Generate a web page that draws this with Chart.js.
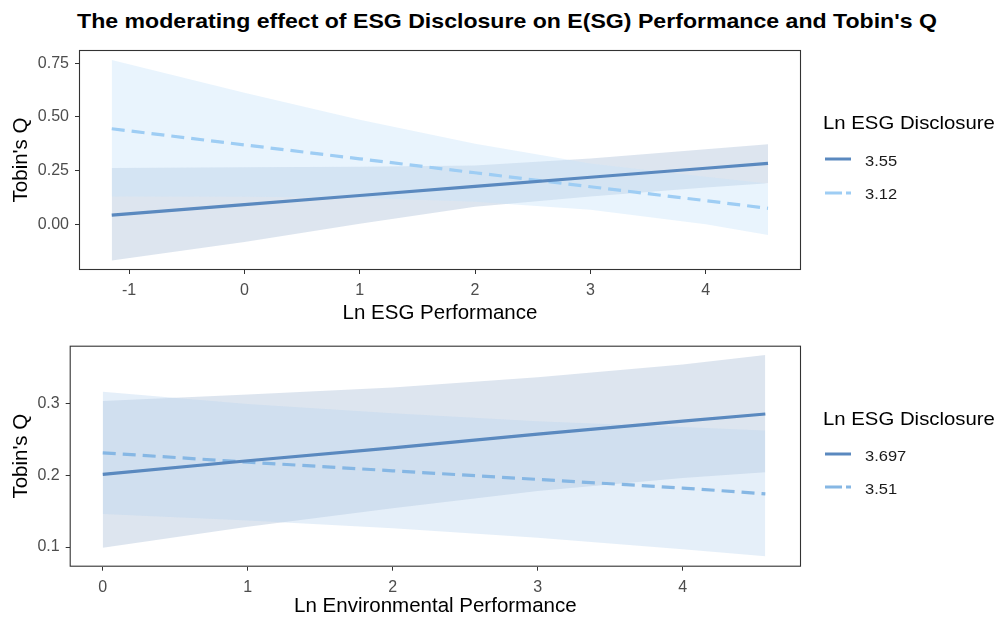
<!DOCTYPE html>
<html>
<head>
<meta charset="utf-8">
<script src="https://cdn.jsdelivr.net/npm/chart.js@4.4.1/dist/chart.umd.min.js"></script>
<style>
html,body{margin:0;padding:0;background:#fff;width:1000px;height:619px;overflow:hidden;}
#wrap{position:relative;width:1000px;height:619px;font-family:"Liberation Sans",Arial,Helvetica,sans-serif;color:#000;}
canvas{position:absolute;left:0;}
#title{position:absolute;left:507px;top:8px;white-space:nowrap;font-weight:bold;font-size:21px;line-height:26px;transform:translateX(-50%) scaleX(1.1);}
.lt{position:absolute;white-space:nowrap;transform-origin:0 50%;transform:scaleX(1.1);}
.key{position:absolute;}
</style>
</head>
<body>
<div id="wrap">
  <div id="title">The moderating effect of ESG Disclosure on E(SG) Performance and Tobin's Q</div>
  <canvas id="c1" width="1000" height="330" style="top:0;width:1000px;height:330px"></canvas>
  <canvas id="c2" width="1000" height="289" style="top:330px;width:1000px;height:289px"></canvas>
</div>
<script>
// ---------- Panel 1: Ln ESG Performance ----------
const topX          = [-1.15, 0, 1, 2, 3, 4, 4.54];
const topSolidFit   = [0.043, 0.092, 0.134, 0.177, 0.219, 0.261, 0.284];
const topSolidLow   = [-0.169, -0.083, 0.002, 0.082, 0.129, 0.171, 0.191];
const topSolidHigh  = [0.262, 0.266, 0.268, 0.274, 0.307, 0.350, 0.373];
const topDashFit    = [0.445, 0.370, 0.305, 0.240, 0.175, 0.110, 0.0745];
const topDashLow    = [0.129, 0.128, 0.124, 0.105, 0.068, 0.000, -0.050];
const topDashHigh   = [0.765, 0.613, 0.487, 0.375, 0.283, 0.222, 0.190];
const topXTicks     = [-1, 0, 1, 2, 3, 4];
const topYTicks     = [0, 0.25, 0.5, 0.75];
const topLegendLabels = ["3.55", "3.12"];

// ---------- Panel 2: Ln Environmental Performance ----------
const botX          = [0, 1, 2, 3, 4, 4.57];
const botSolidFit   = [0.201, 0.220, 0.238, 0.257, 0.275, 0.285];
const botSolidLow   = [0.099, 0.128, 0.154, 0.178, 0.196, 0.204];
const botSolidHigh  = [0.303, 0.312, 0.322, 0.336, 0.354, 0.367];
const botDashFit    = [0.231, 0.218, 0.206, 0.194, 0.182, 0.174];
const botDashLow    = [0.146, 0.137, 0.126, 0.113, 0.097, 0.087];
const botDashHigh   = [0.316, 0.299, 0.286, 0.275, 0.267, 0.262];
const botXTicks     = [0, 1, 2, 3, 4];
const botYTicks     = [0.1, 0.2, 0.3];
const botLegendLabels = ["3.697", "3.51"];

const legendTitle = "Ln ESG Disclosure";
const yTitle = "Tobin's Q";

const FONT = '"Liberation Sans", Arial, Helvetica, sans-serif';
Chart.defaults.font.family = FONT;

const SOLID_COLOR = '#5a89bf';
const SOLID_BAND = 'rgba(166,187,213,0.38)';

function pts(xs, ys){ return xs.map((x,i)=>({x:x, y:ys[i]})); }

const panelBorder = {
  id:'panelBorder',
  afterDatasetsDraw(chart){
    const a = chart.chartArea, ctx = chart.ctx;
    ctx.save();
    ctx.strokeStyle = '#333333';
    ctx.lineWidth = 1.1;
    ctx.strokeRect(a.left+0.5, a.top+0.5, a.right-a.left-1, a.bottom-a.top-1);
    ctx.restore();
  }
};

function makeChart(id, cfg){
  const datasets = [
    {data:pts(cfg.x, cfg.solidLow), borderColor:'rgba(0,0,0,0)', borderWidth:0, pointRadius:0, fill:false, order:3},
    {data:pts(cfg.x, cfg.solidHigh), borderColor:'rgba(0,0,0,0)', borderWidth:0, pointRadius:0, fill:'-1', backgroundColor:SOLID_BAND, order:3},
    {data:pts(cfg.x, cfg.dashLow), borderColor:'rgba(0,0,0,0)', borderWidth:0, pointRadius:0, fill:false, order:2},
    {data:pts(cfg.x, cfg.dashHigh), borderColor:'rgba(0,0,0,0)', borderWidth:0, pointRadius:0, fill:'-1', backgroundColor:cfg.dashBand, order:2},
    {label:cfg.legend[1], data:pts(cfg.x, cfg.dashFit), borderColor:cfg.dashColor, borderWidth:3.2, borderDash:[13,7], borderCapStyle:'butt', pointRadius:0, fill:false, order:1},
    {label:cfg.legend[0], data:pts(cfg.x, cfg.solidFit), borderColor:SOLID_COLOR, borderWidth:3.2, pointRadius:0, fill:false, order:0}
  ];
  return new Chart(document.getElementById(id), {
    type:'line',
    data:{datasets:datasets},
    plugins:[panelBorder],
    options:{
      responsive:false, maintainAspectRatio:false, animation:false,
      events:[],
      elements:{line:{tension:0}},
      layout:{padding:{left:0, top:cfg.padTop, right:199, bottom:0}},
      plugins:{legend:{display:false}, tooltip:{enabled:false}, title:{display:false}},
      scales:{
        x:{
          type:'linear', min:cfg.xMin, max:cfg.xMax,
          afterBuildTicks:(s)=>{ s.ticks = cfg.xTicks.map(v=>({value:v})); },
          afterFit:(s)=>{ s.height = cfg.xHeight; },
          ticks:{callback:(v)=>String(v), color:'#4d4d4d', font:{size:16}, padding:7, maxRotation:0, autoSkip:false},
          grid:{display:true, drawOnChartArea:false, drawTicks:true, tickLength:4, tickColor:'#333333', tickWidth:1},
          border:{display:false},
          title:{display:true, text:cfg.xTitle, color:'#000', font:{size:20.5}, padding:{top:0, bottom:cfg.xTitlePad}}
        },
        y:{
          type:'linear', min:cfg.yMin, max:cfg.yMax,
          afterBuildTicks:(s)=>{ s.ticks = cfg.yTicks.map(v=>({value:v})); },
          afterFit:(s)=>{ s.width = cfg.yWidth; },
          ticks:{callback:(v)=>Number(v).toFixed(cfg.yDec), color:'#4d4d4d', font:{size:16}, padding:6, autoSkip:false},
          grid:{display:true, drawOnChartArea:false, drawTicks:true, tickLength:4, tickColor:'#333333', tickWidth:1},
          border:{display:false},
          title:{display:true, text:yTitle, color:'#000', font:{size:20.5}, padding:{top:9, bottom:0}}
        }
      }
    }
  });
}

makeChart('c1', {
  x:topX, solidFit:topSolidFit, solidLow:topSolidLow, solidHigh:topSolidHigh,
  dashFit:topDashFit, dashLow:topDashLow, dashHigh:topDashHigh,
  dashColor:'#9ecdf4', dashBand:'rgba(197,226,250,0.38)',
  legend:topLegendLabels,
  xMin:-1.434, xMax:4.826, yMin:-0.213, yMax:0.812,
  xTicks:topXTicks, yTicks:topYTicks, yDec:2,
  padTop:50, xHeight:60, yWidth:79, xTitle:'Ln ESG Performance', xTitlePad:4.5
});

makeChart('c2', {
  x:botX, solidFit:botSolidFit, solidLow:botSolidLow, solidHigh:botSolidHigh,
  dashFit:botDashFit, dashLow:botDashLow, dashHigh:botDashHigh,
  dashColor:'#86b7e4', dashBand:'rgba(187,213,239,0.38)',
  legend:botLegendLabels,
  xMin:-0.228, xMax:4.816, yMin:0.0726, yMax:0.380,
  xTicks:botXTicks, yTicks:botYTicks, yDec:1,
  padTop:15.7, xHeight:52.3, yWidth:69.7, xTitle:'Ln Environmental Performance', xTitlePad:0
});

// ---------- Legends (HTML) ----------
function addLegend(titleCenterY, itemYs, labels, dashColor){
  const wrap = document.getElementById('wrap');
  const t = document.createElement('div');
  t.className = 'lt';
  t.style.left = '823px'; t.style.top = (titleCenterY - 11) + 'px';
  t.style.fontSize = '18.5px'; t.style.lineHeight = '22px';
  t.textContent = legendTitle;
  wrap.appendChild(t);
  labels.forEach((lab, i) => {
    const ky = itemYs[i];
    const svg = document.createElementNS('http://www.w3.org/2000/svg','svg');
    svg.setAttribute('width','30'); svg.setAttribute('height','10');
    svg.setAttribute('class','key');
    svg.style.left = '824px'; svg.style.top = (ky - 5) + 'px';
    const ln = document.createElementNS('http://www.w3.org/2000/svg','line');
    ln.setAttribute('x1','1'); ln.setAttribute('x2','27');
    ln.setAttribute('y1','5'); ln.setAttribute('y2','5');
    ln.setAttribute('stroke-width','3');
    ln.setAttribute('stroke', i === 0 ? SOLID_COLOR : dashColor);
    if (i === 1) ln.setAttribute('stroke-dasharray','17 4');
    svg.appendChild(ln);
    wrap.appendChild(svg);
    const d = document.createElement('div');
    d.className = 'lt';
    d.style.left = '865px'; d.style.top = (ky + 1.5 - 9) + 'px';
    d.style.fontSize = '15px'; d.style.lineHeight = '18px';
    d.style.color = '#1a1a1a';
    d.textContent = lab;
    wrap.appendChild(d);
  });
}
addLegend(123.3, [159.3, 192.7], topLegendLabels, '#9ecdf4');
addLegend(418.8, [454, 487.3], botLegendLabels, '#86b7e4');
</script>
</body>
</html>
